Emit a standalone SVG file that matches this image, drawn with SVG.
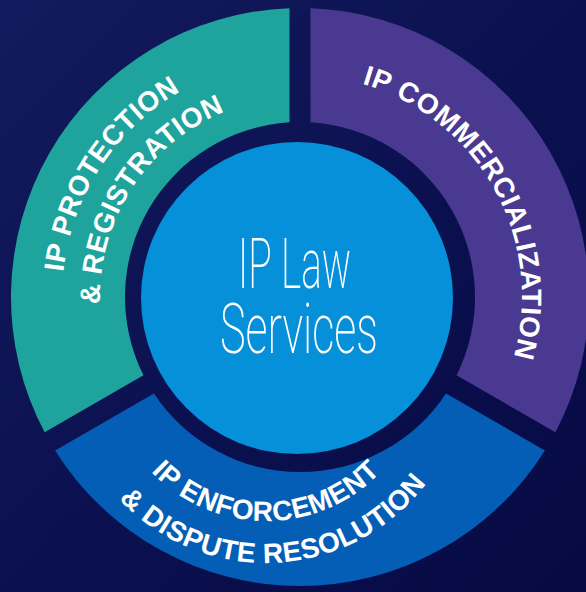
<svg xmlns="http://www.w3.org/2000/svg" width="586" height="592" viewBox="0 0 586 592">
  <style>
    .seg-text { font-family: "Liberation Sans", Arial, sans-serif; font-weight: bold; font-size: 28px; letter-spacing: 0.5px; fill: #ffffff; }
    .center-text { font-family: Roboto, "Liberation Sans", sans-serif; font-weight: 200; font-size: 71px; fill: #ffffff; }
  </style>
  <defs>
    <linearGradient id="bgGrad" x1="0" y1="0" x2="1" y2="1">
      <stop offset="0" stop-color="#131b5e"/>
      <stop offset="0.5" stop-color="#0b1150"/>
      <stop offset="1" stop-color="#060a44"/>
    </linearGradient>
    <path id="tealLine1" d="M 93.89 416 A 238 238 0 0 1 324.88 60.30"/>
    <path id="tealLine2" d="M 126.79 397 A 200 200 0 0 1 320.91 98.10"/>
    <path id="purpleLine" d="M 303.87 75.03 A 222 222 0 0 1 490.29 411.34"/>
    <path id="blueLine1" d="M 109.42 389.61 A 159 159 0 0 0 422.58 389.61"/>
    <path id="blueLine2" d="M 65.77 379.52 A 201 201 0 0 0 466.97 358.49"/>
  </defs>

  <rect id="background" x="0" y="0" width="586" height="592" fill="url(#bgGrad)"/>

  <g id="protection">
    <path d="M 44.63 432.32 A 289 289 0 0 1 289.5 8.19 L 289.5 122.32 A 175 175 0 0 0 143.47 375.25 Z" fill="#1fa39d"/>
    <text class="seg-text"><textPath href="#tealLine1" startOffset="50%" text-anchor="middle">IP PROTECTION</textPath></text>
    <text class="seg-text"><textPath href="#tealLine2" startOffset="50%" text-anchor="middle">&amp; REGISTRATION</textPath></text>
  </g>

  <g id="commercialization">
    <path d="M 310.5 8.19 A 289 289 0 0 1 555.37 432.32 L 456.53 375.25 A 175 175 0 0 0 310.5 122.32 Z" fill="#4a3991"/>
    <text class="seg-text"><textPath href="#purpleLine" startOffset="50%" text-anchor="middle">IP COMMERCIALIZATION</textPath></text>
  </g>

  <g id="enforcement">
    <path d="M 544.87 450.5 A 289 289 0 0 1 55.13 450.5 L 153.97 393.43 A 175 175 0 0 0 446.03 393.43 Z" fill="#055eb6"/>
    <text class="seg-text"><textPath href="#blueLine1" startOffset="50%" text-anchor="middle">IP ENFORCEMENT</textPath></text>
    <text class="seg-text"><textPath href="#blueLine2" startOffset="50%" text-anchor="middle">&amp; DISPUTE RESOLUTION</textPath></text>
  </g>

  <g id="center">
    <circle cx="297" cy="298" r="156" fill="#0590d9"/>
    <text class="center-text" x="238" y="288" textLength="113" lengthAdjust="spacingAndGlyphs">IP Law</text>
    <text class="center-text" x="220" y="353" textLength="158" lengthAdjust="spacingAndGlyphs">Services</text>
  </g>
</svg>
